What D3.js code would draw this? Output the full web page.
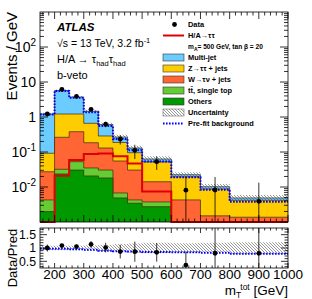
<!DOCTYPE html>
<html><head><meta charset="utf-8">
<script src="https://cdn.jsdelivr.net/npm/d3@7"></script>
<style>
body{margin:0;background:#fff}
svg{display:block}
text{font-family:"Liberation Sans",Arial,Helvetica,sans-serif;fill:#000}
</style>
</head><body>
<svg id="c" width="312" height="299"></svg>
<script>
// ---- data (per GeV) ----
const binEdges   = [150,200,250,300,350,400,450,500,600,700,800,1000];
const dataX      = [175,225,275,325,375,425,475,550,650,750,900];
const dataY      = [1.22,6.19,3.9,1.66,0.62,0.232,0.112,0.0528,0.0081,0.0082,0.0039];
const dataErrUp  = [0.16,0.35,0.28,0.18,0.11,0.069,0.049,0.022,0.011,0.011,0.0094];
const dataErrDn  = [0.16,0.35,0.28,0.18,0.11,0.069,0.049,0.022,0.0081,0.0082,0.0039];
const others     = [0.00198,0.0236,0.0305,0.0207,0.0181,0.00487,0.00344,0.00274,0.00068,0.0005,0.0004];
const ttbar      = [0.00229,0.0085,0.0223,0.0143,0.0124,0.00187,0.00083,0.001,0.0002,0.0003,0.0003];
const wjets      = [0.023,0.231,0.327,0.149,0.0995,0.0486,0.0262,0.0104,0.0034,0.0007,0.00067];
const zjets      = [0.0647,0.955,0.838,0.476,0.157,0.132,0.065,0.0379,0.0152,0.0073,0.0028];
const multijet   = [1.128,4.46,2.49,0.80,0.323,0.081,0.0345,0.011,0.003,0.0014,0.0007];
const signalHA   = [0.0002,0.021,0.059,0.087,0.09,0.075,0.047,0.0074,0.0002,0.0002,0.0002];
const prefitBkg  = [1.18,5.5,3.52,1.36,0.549,0.236,0.113,0.0536,0.0189,0.00836,0.00382];
const uncRel     = [0.08,0.08,0.08,0.1,0.12,0.15,0.17,0.2,0.18,0.2,0.22];
const yTickVals  = [1e-2,1e-1,1,10,100];
const yTickLbls  = [["10","-2"],["10","-1"],["1",""],["10",""],["10","2"]];
const xTickVals  = [200,300,400,500,600,700,800,900,1000];
const rTickVals  = [0.5,1,1.5];
const rTickLbls  = ["0.5","1","1.5"];

const colors = {multijet:"#6ccbff", zjets:"#ffcc00", wjets:"#ff6633", ttbar:"#66cc33", others:"#009900"};

// ---- layout ----
const L=40,R=288,T=12,B=222,RT=228,RB=268;
const svg=d3.select("#c");
const x=d3.scaleLinear().domain([150,1000]).range([L,R]);
const y=d3.scaleLog().domain([1e-3,1e3]).range([B,T]);
const yr=d3.scaleLinear().domain([0.25,1.75]).range([RB,RT]);

const defs=svg.append("defs");
const pat=defs.append("pattern").attr("id","hatch").attr("patternUnits","userSpaceOnUse")
  .attr("width",3).attr("height",3);
pat.append("path").attr("d","M-1,-1L4,4M-1,2L1,4M2,-1L4,1").attr("stroke","#555").attr("stroke-width",0.6);
defs.append("clipPath").attr("id","cm").append("rect").attr("x",L).attr("y",T).attr("width",R-L).attr("height",B-T);
defs.append("clipPath").attr("id","cr").append("rect").attr("x",L).attr("y",RT).attr("width",R-L).attr("height",RB-RT);

const n=dataX.length;
const total=d3.range(n).map(i=>others[i]+ttbar[i]+wjets[i]+zjets[i]+multijet[i]);
const steps=v=>binEdges.map((e,i)=>({e,v:v[Math.min(i,n-1)]}));
const yy=v=>y(Math.max(v,1e-5));

const gm=svg.append("g").attr("clip-path","url(#cm)");
const stackOrder=[["others",others],["ttbar",ttbar],["wjets",wjets],["zjets",zjets],["multijet",multijet]];
let cum=new Array(n).fill(0);
const cums=[];
stackOrder.forEach(([k,arr])=>{cum=cum.map((c,i)=>c+arr[i]);cums.push([k,cum.slice()]);});
const area=d3.area().x(d=>x(d.e)).y0(B+2).y1(d=>yy(d.v)).curve(d3.curveStepAfter);
const line=d3.line().x(d=>x(d.e)).y(d=>yy(d.v)).curve(d3.curveStepAfter);
cums.slice().reverse().forEach(([k,c])=>{
  gm.append("path").attr("d",area(steps(c))).attr("fill",colors[k]);
  gm.append("path").attr("d",line(steps(c))).attr("fill","none").attr("stroke","#3b2b10").attr("stroke-width",0.7);
});
const band=d3.area().x(d=>x(d.e)).y0(d=>yy(d.lo)).y1(d=>yy(d.hi)).curve(d3.curveStepAfter);
const bandData=binEdges.map((e,i)=>{const j=Math.min(i,n-1);return {e,lo:total[j]*(1-uncRel[j]),hi:total[j]*(1+uncRel[j])};});
gm.append("path").attr("d",band(bandData)).attr("fill","url(#hatch)");
gm.append("path").attr("d",line(steps(prefitBkg))).attr("fill","none").attr("stroke","#0000ff")
  .attr("stroke-width",2).attr("stroke-dasharray","1.6,1.4");
const sline=d3.line().x(d=>x(d.e)).y(d=>y(Math.max(d.v,1e-3))).curve(d3.curveStepAfter);
svg.append("path").attr("d",sline(steps(signalHA))).attr("fill","none").attr("stroke","#dd0000").attr("stroke-width",2);
dataX.forEach((dx,i)=>{
  gm.append("line").attr("x1",x(dx)).attr("x2",x(dx))
    .attr("y1",y(dataY[i]+dataErrUp[i])).attr("y2",yy(dataY[i]-dataErrDn[i]))
    .attr("stroke","#000").attr("stroke-width",0.8);
  gm.append("circle").attr("cx",x(dx)).attr("cy",y(dataY[i])).attr("r",2.4).attr("fill","#000");
});

// ---- ratio panel ----
const gr=svg.append("g").attr("clip-path","url(#cr)");
const rband=d3.area().x(d=>x(d.e)).y0(d=>yr(d.lo)).y1(d=>yr(d.hi)).curve(d3.curveStepAfter);
gr.append("path").attr("d",rband(binEdges.map((e,i)=>{const j=Math.min(i,n-1);return {e,lo:1-uncRel[j],hi:1+uncRel[j]};}))).attr("fill","url(#hatch)");
const rline=d3.line().x(d=>x(d.e)).y(d=>yr(d.v)).curve(d3.curveStepAfter);
gr.append("path").attr("d",rline(steps(prefitBkg.map((p,i)=>p/total[i])))).attr("fill","none")
  .attr("stroke","#0000ff").attr("stroke-width",2).attr("stroke-dasharray","1.6,1.4");
dataX.forEach((dx,i)=>{
  const r=dataY[i]/total[i];
  gr.append("line").attr("x1",x(dx)).attr("x2",x(dx))
    .attr("y1",yr(r+dataErrUp[i]/total[i])).attr("y2",yr(r-dataErrDn[i]/total[i]))
    .attr("stroke","#000").attr("stroke-width",0.8);
  gr.append("circle").attr("cx",x(dx)).attr("cy",yr(r)).attr("r",2.4).attr("fill","#000");
});

// ---- frames and ticks ----
const ax=svg.append("g").attr("stroke","#000").attr("stroke-width",0.8);
ax.append("rect").attr("x",L).attr("y",T).attr("width",R-L).attr("height",B-T).attr("fill","none");
ax.append("rect").attr("x",L).attr("y",RT).attr("width",R-L).attr("height",RB-RT).attr("fill","none");
const xMinor=d3.range(160,1001,20);
[[T,1],[B,-1],[RT,1],[RB,-1]].forEach(([yy0,dir])=>{
  xMinor.forEach(v=>{
    const major=v%100===0;
    const len=major?(yy0===RT||yy0===RB?5:7):(yy0===RT||yy0===RB?2.5:3.5);
    ax.append("line").attr("x1",x(v)).attr("x2",x(v)).attr("y1",yy0).attr("y2",yy0+dir*len);
  });
});
for(let d=-3;d<3;d++){
  for(let m=1;m<10;m++){
    const v=m*Math.pow(10,d);
    const len=m===1?8:4;
    [[L,1],[R,-1]].forEach(([x0,dir])=>ax.append("line").attr("x1",x0).attr("x2",x0+dir*len).attr("y1",y(v)).attr("y2",y(v)));
  }
}
d3.range(3,18).map(k=>k/10).forEach(v=>{
  const major=Math.abs(v*2-Math.round(v*2))<1e-6;
  const len=major?7:3.5;
  [[L,1],[R,-1]].forEach(([x0,dir])=>ax.append("line").attr("x1",x0).attr("x2",x0+dir*len).attr("y1",yr(v)).attr("y2",yr(v)));
});

// ---- labels ----
yTickVals.forEach((v,i)=>{
  const t=svg.append("text").attr("x",36).attr("y",y(v)+5).attr("text-anchor","end").attr("font-size",14);
  t.append("tspan").text(yTickLbls[i][0]);
  if(yTickLbls[i][1]) t.append("tspan").attr("dy",-6).attr("font-size",10).text(yTickLbls[i][1]);
});
xTickVals.forEach(v=>{
  svg.append("text").attr("x",x(v)).attr("y",279).attr("text-anchor","middle").attr("font-size",13.5).text(v);
});
rTickVals.forEach((v,i)=>{
  svg.append("text").attr("x",36).attr("y",yr(v)+4.3).attr("text-anchor","end").attr("font-size",12.3).text(rTickLbls[i]);
});
svg.append("text").attr("transform","translate(17,12) rotate(-90)").attr("text-anchor","end").attr("font-size",15).text("Events / GeV");
svg.append("text").attr("transform","translate(17,258) rotate(-90)").attr("text-anchor","middle").attr("font-size",13).text("Data/Pred");
const xt=svg.append("text").attr("x",R).attr("y",295).attr("text-anchor","end").attr("font-size",13.5);
xt.append("tspan").text("m");
xt.append("tspan").attr("dy",3).attr("font-size",8.5).text("T");
xt.append("tspan").attr("dy",-8.5).attr("dx",-1).attr("font-size",8.5).text("tot");
xt.append("tspan").attr("dy",5.5).text(" [GeV]");

svg.append("text").attr("x",57).attr("y",31).attr("font-size",11.5).attr("font-weight","bold").attr("font-style","italic").text("ATLAS");
const t2=svg.append("text").attr("x",57).attr("y",46.5).attr("font-size",10.5);
t2.append("tspan").text("\u221As = 13 TeV, 3.2 fb");
t2.append("tspan").attr("dy",-4).attr("font-size",7.5).text("-1");
const t3=svg.append("text").attr("x",57).attr("y",63).attr("font-size",11);
t3.append("tspan").text("H/A \u2192 \u03C4");
t3.append("tspan").attr("dy",3).attr("font-size",7.5).text("had");
t3.append("tspan").attr("dy",-3).text("\u03C4");
t3.append("tspan").attr("dy",3).attr("font-size",7.5).text("had");
svg.append("text").attr("x",57).attr("y",78.5).attr("font-size",11).text("b-veto");

// legend
const lx=163,lw=21,tx=188,ly0=24.5,dy=11;
const lg=svg.append("g");
const legText=(i,s)=>lg.append("text").attr("x",tx).attr("y",ly0+i*dy+2.6).attr("font-size",7.4).attr("font-weight","bold").text(s);
lg.append("circle").attr("cx",lx+lw/2+1).attr("cy",ly0).attr("r",2.4).attr("fill","#000");
legText(0,"Data");
lg.append("line").attr("x1",lx).attr("x2",lx+lw).attr("y1",ly0+dy).attr("y2",ly0+dy).attr("stroke","#dd0000").attr("stroke-width",2);
legText(1,"H/A\u2192\u03C4\u03C4");
const mt=lg.append("text").attr("x",tx).attr("y",ly0+2*dy+2.6).attr("font-size",6.6).attr("font-weight","bold");
mt.append("tspan").text("m");
mt.append("tspan").attr("dy",1.8).attr("font-size",5).text("A");
mt.append("tspan").attr("dy",-1.8).text("= 500 GeV, tan  \u03B2 = 20");
const boxes=[["multijet","Multi-jet"],["zjets","Z\u2192\u03C4\u03C4 + jets"],["wjets","W\u2192\u03C4\u03BD + jets"],["ttbar","t\u0074\u0304, single top"],["others","Others"]];
boxes.forEach(([k,s],j)=>{
  const i=3+j;
  lg.append("rect").attr("x",lx).attr("y",ly0+i*dy-3.5).attr("width",lw).attr("height",7).attr("fill",colors[k]).attr("stroke","#333").attr("stroke-width",0.6);
  legText(i,s);
});
lg.append("rect").attr("x",lx).attr("y",ly0+8*dy-3.5).attr("width",lw).attr("height",7).attr("fill","url(#hatch)").attr("stroke","#555").attr("stroke-width",0.5);
legText(8,"Uncertainty");
lg.append("line").attr("x1",lx).attr("x2",lx+lw).attr("y1",ly0+9*dy).attr("y2",ly0+9*dy).attr("stroke","#0000ff").attr("stroke-width",2).attr("stroke-dasharray","1.6,1.4");
legText(9,"Pre-fit background");
</script>
</body></html>
